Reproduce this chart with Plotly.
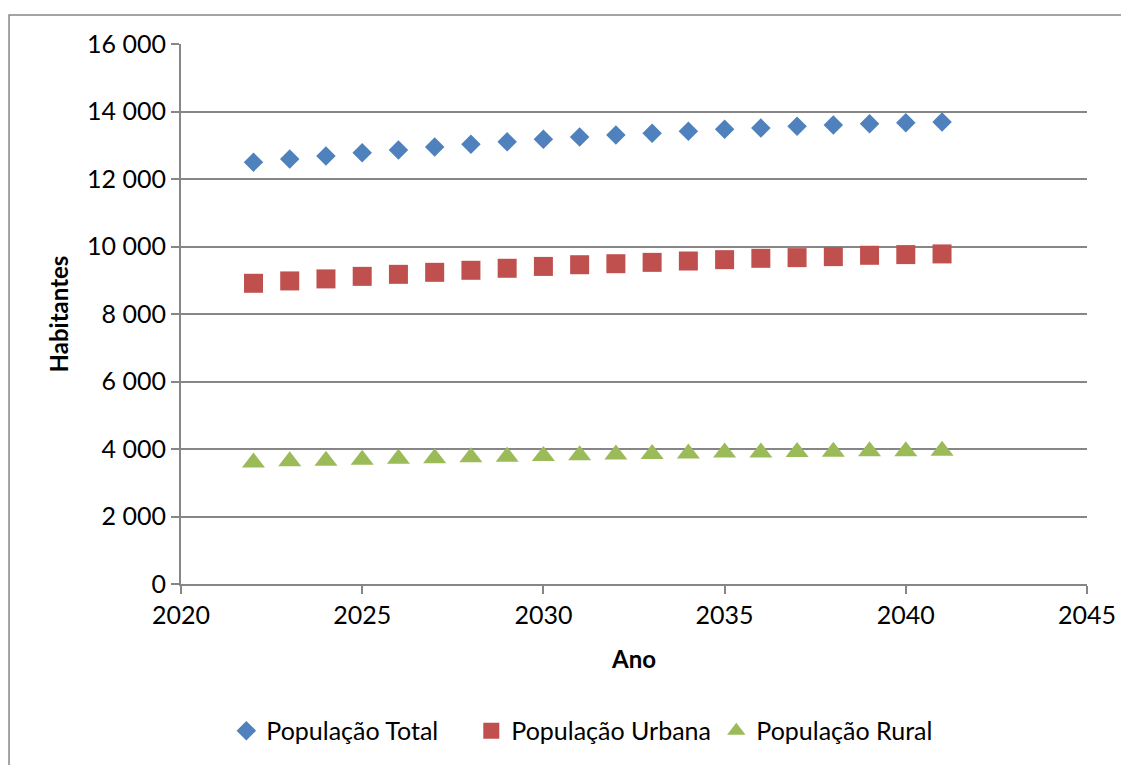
import plotly.graph_objects as go

anos = list(range(2022, 2042))
pop_total = [12500, 12590, 12680, 12780, 12860, 12950, 13030, 13100, 13175, 13245,
             13305, 13355, 13415, 13475, 13510, 13560, 13600, 13640, 13670, 13690]
pop_urbana = [8910, 8980, 9040, 9115, 9175, 9235, 9295, 9355, 9410, 9460,
              9490, 9530, 9570, 9610, 9650, 9670, 9700, 9740, 9760, 9780]
pop_rural = [3600, 3635, 3655, 3685, 3710, 3725, 3755, 3770, 3795, 3815,
             3835, 3850, 3870, 3895, 3900, 3910, 3920, 3930, 3935, 3950]

FONT = "Lato"
GRID = "#868686"

fig = go.Figure()
fig.add_trace(go.Scatter(x=anos, y=pop_total, mode="markers", name="População Total",
                         marker=dict(symbol="diamond", size=15, color="#4F81BD")))
fig.add_trace(go.Scatter(x=anos, y=pop_urbana, mode="markers", name="População Urbana",
                         marker=dict(symbol="square", size=19, color="#C0504D")))
fig.add_trace(go.Scatter(x=anos, y=pop_rural, mode="markers", name="População Rural",
                         marker=dict(symbol="triangle-up", size=20, color="#9BBB59")))

fig.update_layout(
    width=1129, height=765,
    margin=dict(l=173, r=50, t=36, b=189),
    paper_bgcolor="white", plot_bgcolor="white",
    separators=", ",
    font=dict(family=FONT, size=25, color="black"),
    showlegend=True,
    legend=dict(orientation="h", x=0.05, xanchor="left", y=-0.272, yanchor="middle",
                font=dict(family=FONT, size=25, color="black"),
                itemsizing="trace", traceorder="normal", itemwidth=30,
                entrywidth=200, entrywidthmode="pixels"),
    xaxis=dict(range=[2020, 2045], dtick=5, tick0=2020, showgrid=False,
               showline=True, linecolor=GRID, linewidth=2,
               ticks="outside", ticklen=8, tickcolor=GRID, tickwidth=2,
               zeroline=False,
               tickfont=dict(family=FONT, size=25),
               title=dict(text="<b>Ano</b>", font=dict(family=FONT, size=24), standoff=23)),
    yaxis=dict(range=[0, 16000], dtick=2000, showgrid=True, gridcolor=GRID, gridwidth=2,
               showline=True, linecolor=GRID, linewidth=2,
               ticks="outside", ticklen=8, tickcolor=GRID, tickwidth=2,
               zeroline=False, separatethousands=True, tickformat=",d",
               tickfont=dict(family=FONT, size=25),
               title=dict(text="<b>Habitantes</b>", font=dict(family=FONT, size=24), standoff=12)),
    shapes=[dict(type="rect", xref="paper", yref="paper",
                 x0=-0.1898, x1=1.3, y0=-0.6, y1=1.0537,
                 line=dict(color=GRID, width=1.5), fillcolor="rgba(0,0,0,0)", layer="below")],
)

fig.write_html("out.html")
